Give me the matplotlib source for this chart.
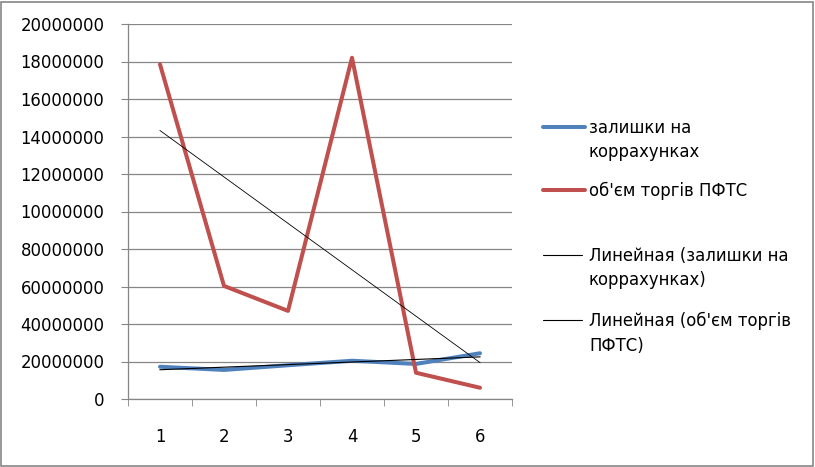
import numpy as np
import matplotlib.pyplot as plt
from matplotlib.lines import Line2D
from matplotlib.patches import Rectangle

# --- data ---
periods = [1, 2, 3, 4, 5, 6]
balances = [17.2e6, 15.5e6, 18.0e6, 20.4e6, 18.7e6, 24.4e6]        # залишки на коррахунках
pfts_volume = [178.5e6, 60.3e6, 47.0e6, 182.0e6, 14.0e6, 6.0e6]     # об'єм торгів ПФТС

y_ticks = [0, 20e6, 40e6, 60e6, 80e6, 100e6, 120e6, 140e6, 160e6, 180e6, 200e6]
y_tick_labels = ["0", "20000000", "40000000", "60000000", "80000000", "10000000",
                 "12000000", "14000000", "16000000", "18000000", "20000000"]

legend_labels = ["залишки на\nкоррахунках", "об'єм торгів ПФТС",
                 "Линейная (залишки на\nкоррахунках)", "Линейная (об'єм торгів\nПФТС)"]

blue = "#4F81BD"
red = "#C0504D"
grid_col = "#868686"
font = "DejaVu Sans"

W, H = 815, 467
fig = plt.figure(figsize=(W / 100, H / 100), dpi=100)
ax = fig.add_axes([128 / W, 1 - 399 / H, (512 - 128) / W, (399 - 24) / H])

x = np.array(periods, dtype=float)

# --- linear trends (least squares, as the spreadsheet does) ---
kb, bb = np.polyfit(x, balances, 1)
kp, bp = np.polyfit(x, pfts_volume, 1)

ax.plot(x, balances, color=blue, lw=2.9, solid_capstyle="round", zorder=3)
ax.plot(x, pfts_volume, color=red, lw=2.9, solid_capstyle="round", zorder=3)
ax.plot(x, kb * x + bb, color="black", lw=0.8, zorder=4)
ax.plot(x, kp * x + bp, color="black", lw=0.6, zorder=4)

ax.set_xlim(0.5, 6.5)
ax.set_ylim(0, 200e6)
ax.set_yticks(y_ticks)
ax.set_yticklabels(y_tick_labels, fontsize=11.9, family=font)
ax.set_xticks(periods)
ax.set_xticklabels([str(p) for p in periods], fontsize=11.9, family=font)
ax.set_xticks(np.arange(0.5, 7.0, 1.0), minor=True)

ax.tick_params(axis="x", which="major", length=0, pad=21)
ax.tick_params(axis="x", which="minor", length=5, direction="out", color=grid_col)
ax.tick_params(axis="y", length=5, direction="out", color=grid_col, pad=12)

ax.grid(axis="y", color=grid_col, lw=0.9)
ax.set_axisbelow(True)
for side in ["top", "right"]:
    ax.spines[side].set_visible(False)
for side in ["left", "bottom"]:
    ax.spines[side].set_color(grid_col)
    ax.spines[side].set_linewidth(0.9)

# --- legend drawn by hand to mimic the spreadsheet layout ---
def px(xp, yp):
    return xp / W, 1 - yp / H

handles = [(blue, 2.9, 543, 585), (red, 2.9, 543, 585),
           ("black", 0.8, 543, 582), ("black", 0.8, 543, 582)]
rows = [127, 190, 255, 320]
for (col, lw, x0, x1), yp, lab in zip(handles, rows, legend_labels):
    xa, ya = px(x0, yp)
    xb, _ = px(x1, yp)
    fig.add_artist(Line2D([xa, xb], [ya, ya], color=col, lw=lw, solid_capstyle="round"))
    tx, ty = px(589, yp - 8)
    fig.text(tx, ty, lab, fontsize=11.9, family=font, va="top", ha="left",
             linespacing=1.45)

# chart area border
fig.add_artist(Rectangle((1 / W, 1 / H), (W - 3) / W, (H - 3) / H, fill=False,
                         edgecolor=grid_col, lw=1.2, transform=fig.transFigure))

fig.savefig("out.png", dpi=100)
